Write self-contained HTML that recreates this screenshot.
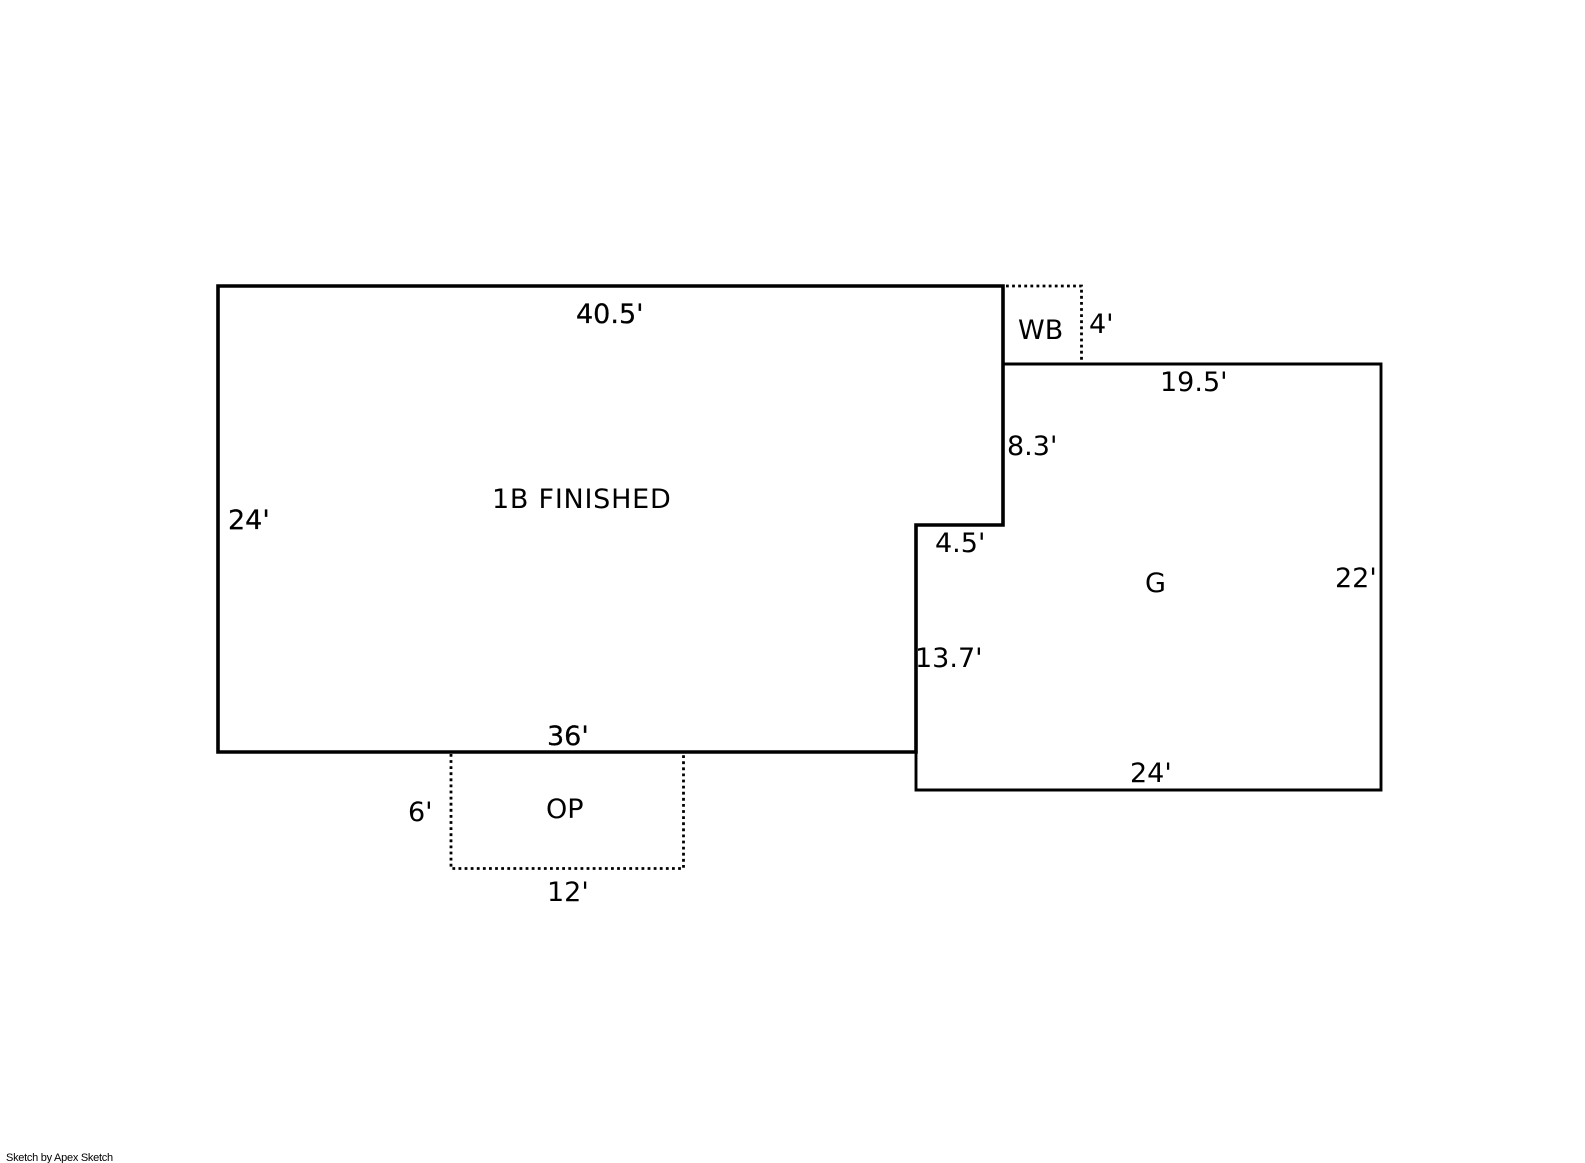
<!DOCTYPE html>
<html>
<head>
<meta charset="utf-8">
<style>
html,body{margin:0;padding:0;background:#fff;}
svg{display:block;}
text{font-family:"DejaVu Sans","Liberation Sans",sans-serif;font-size:27px;fill:#000;}
.b{stroke:#000;stroke-width:.25px;}
</style>
</head>
<body>
<svg width="1585" height="1163" viewBox="0 0 1585 1163" xmlns="http://www.w3.org/2000/svg">
<rect width="1585" height="1163" fill="#fff"/>
<!-- dotted -->
<g fill="none" stroke="#000" stroke-width="2.8" stroke-dasharray="2.8 3.3">
<path d="M1006 286H1081.5V364"/>
<path d="M451 754V868.5H683.5V754"/>
</g>
<!-- garage -->
<path d="M1003 364H1381V790H916V752" fill="none" stroke="#000" stroke-width="2.9"/>
<!-- main -->
<path d="M218 286H1003V525H916V752H218Z" fill="none" stroke="#000" stroke-width="3.6" stroke-linejoin="miter"/>
<!-- labels -->
<text class="b" x="576" y="323">40.5'</text>
<text class="b" x="228" y="529">24'</text>
<text x="492" y="508" style="letter-spacing:.75px">1B FINISHED</text>
<text class="b" x="547" y="745">36'</text>
<text x="408" y="821">6'</text>
<text x="546" y="818">OP</text>
<text x="547" y="901">12'</text>
<text x="1018" y="339">WB</text>
<text x="1089" y="333">4'</text>
<text x="1160" y="391">19.5'</text>
<text x="1007" y="455">8.3'</text>
<text x="935" y="552">4.5'</text>
<text x="1145" y="592">G</text>
<text x="1335" y="587">22'</text>
<text x="915" y="667">13.7'</text>
<text x="1130" y="782">24'</text>
<text x="6" y="1161" style="font-family:'Liberation Sans',sans-serif;font-size:11px;letter-spacing:-0.27px">Sketch by Apex Sketch</text>
</svg>
</body>
</html>
